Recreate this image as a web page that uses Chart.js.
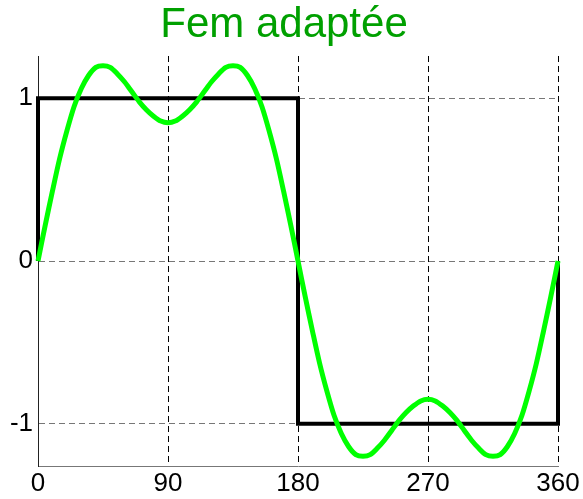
<!DOCTYPE html>
<html>
<head>
<meta charset="utf-8">
<script src="https://cdn.jsdelivr.net/npm/chart.js@4/dist/chart.umd.min.js"></script>
<style>
html,body{margin:0;padding:0;background:#fff;}
#wrap{width:583px;height:499px;position:relative;}
</style>
</head>
<body>
<div id="wrap"><canvas id="c" width="583" height="499"></canvas></div>
<script>
// ---- data ----
const titleText = "Fem adaptée";
const xTicks = [0, 90, 180, 270, 360];
const yTicks = [-1, 0, 1];

// square wave (black)
const squareX = [0, 0, 180, 180, 360, 360];
const squareY = [0, 1, 1, -1, -1, 0];

// adapted emf (green), sampled every 5 degrees
const curveX = [0,5,10,15,20,25,30,35,40,45,50,55,60,65,70,75,80,85,90,
  95,100,105,110,115,120,125,130,135,140,145,150,155,160,165,170,175,180,
  185,190,195,200,205,210,215,220,225,230,235,240,245,250,255,260,265,270,
  275,280,285,290,295,300,305,310,315,320,325,330,335,340,345,350,355,360];
const curveY = [0,0.22,0.43,0.63,0.80,0.95,1.06,1.14,1.19,1.20,1.19,1.15,1.10,1.04,0.98,0.93,0.89,0.86,0.85,
  0.86,0.89,0.93,0.98,1.04,1.10,1.15,1.19,1.20,1.19,1.14,1.06,0.95,0.80,0.63,0.43,0.22,0,
  -0.22,-0.43,-0.63,-0.80,-0.95,-1.06,-1.14,-1.19,-1.20,-1.19,-1.15,-1.10,-1.04,-0.98,-0.93,-0.89,-0.86,-0.85,
  -0.86,-0.89,-0.93,-0.98,-1.04,-1.10,-1.15,-1.19,-1.20,-1.19,-1.14,-1.06,-0.95,-0.80,-0.63,-0.43,-0.22,0];

const FONT = "'Liberation Sans', Arial, sans-serif";

const titlePlugin = {
  id: 'customTitle',
  afterDraw(chart) {
    const ctx = chart.ctx;
    ctx.save();
    ctx.font = "42px " + FONT;
    ctx.fillStyle = "#00a000";
    ctx.textAlign = "center";
    ctx.textBaseline = "alphabetic";
    ctx.fillText(titleText, 284, 37);
    ctx.restore();
  }
};

new Chart(document.getElementById('c'), {
  type: 'line',
  data: {
    datasets: [
      {
        data: curveX.map((x, i) => ({x: x, y: curveY[i]})),
        borderColor: '#00ff00',
        borderWidth: 5,
        pointRadius: 0,
        tension: 0.3,
        fill: false,
        clip: false,
        order: 0
      },
      {
        data: squareX.map((x, i) => ({x: x, y: squareY[i]})),
        borderColor: '#000000',
        borderWidth: 4,
        pointRadius: 0,
        tension: 0,
        fill: false,
        clip: false,
        borderJoinStyle: 'miter',
        order: 1
      }
    ]
  },
  plugins: [titlePlugin],
  options: {
    responsive: false,
    animation: false,
    devicePixelRatio: 1,
    layout: { padding: { top: 56, right: 25, left: 0, bottom: 0 } },
    plugins: { legend: { display: false }, title: { display: false }, tooltip: { enabled: false } },
    scales: {
      x: {
        type: 'linear',
        min: 0, max: 360,
        afterBuildTicks(axis) { axis.ticks = xTicks.map(v => ({value: v})); },
        afterFit(axis) { axis.height = 33; },
        ticks: { color: '#000', font: { family: FONT, size: 26 }, padding: 2, maxRotation: 0, autoSkip: false },
        grid: { color: '#000', lineWidth: 1, drawTicks: false },
        border: { display: true, color: '#777', width: 1, dash: [6, 4] }
      },
      y: {
        type: 'linear',
        min: -1.26, max: 1.26,
        afterBuildTicks(axis) { axis.ticks = yTicks.map(v => ({value: v})); },
        afterFit(axis) { axis.width = 38; },
        ticks: { color: '#000', font: { family: FONT, size: 26 }, padding: 5,
                 callback: v => String(v) },
        grid: { color: '#777', lineWidth: 1, drawTicks: false },
        border: { display: true, color: '#222', width: 1, dash: [6, 4] }
      }
    }
  }
});
</script>
</body>
</html>
